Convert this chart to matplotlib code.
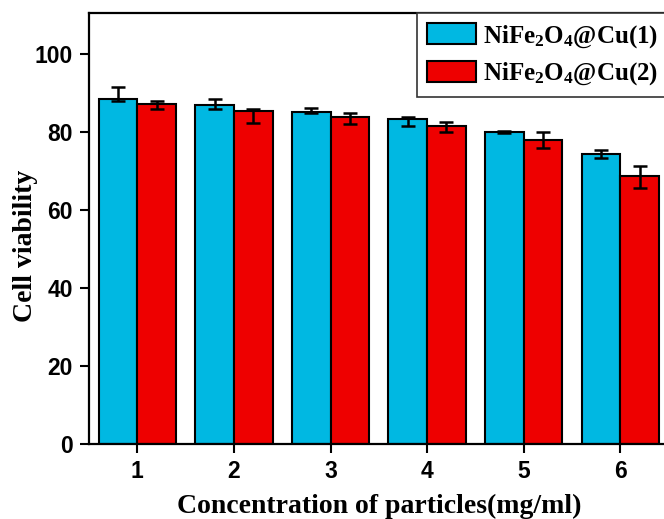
import numpy as np
import matplotlib
matplotlib.use("Agg")
import matplotlib.pyplot as plt

# Data
conc = [1, 2, 3, 4, 5, 6]
cu1_mean = [88.5, 87.0, 85.1, 83.3, 79.9, 74.4]
cu1_err_low = [0.6, 1.2, 0.3, 1.7, 0.3, 1.0]
cu1_err_high = [2.9, 1.5, 1.1, 0.5, 0.3, 1.0]
cu2_mean = [87.2, 85.4, 83.9, 81.5, 77.9, 68.7]
cu2_err_low = [1.3, 3.1, 2.0, 1.5, 2.0, 3.0]
cu2_err_high = [0.8, 0.5, 1.0, 1.0, 2.1, 2.5]
labels = ["NiFe$_2$O$_4$@Cu(1)", "NiFe$_2$O$_4$@Cu(2)"]

plt.rcParams["mathtext.default"] = "regular"

fig = plt.figure(figsize=(6.64, 5.19), dpi=100)
ax = fig.add_axes([0.134, 0.145, 0.873, 0.830])

x = np.array(conc)
w = 0.4
err_kw = dict(elinewidth=1.8, capsize=5, capthick=1.8, ecolor="black")
ax.bar(x - w / 2, cu1_mean, w, color="#00B8E2", edgecolor="black", linewidth=1.5,
       yerr=[cu1_err_low, cu1_err_high], error_kw=err_kw, label=labels[0])
ax.bar(x + w / 2, cu2_mean, w, color="#EE0000", edgecolor="black", linewidth=1.5,
       yerr=[cu2_err_low, cu2_err_high], error_kw=err_kw, label=labels[1])

ax.set_xlim(0.5, 6.5)
ax.set_ylim(0, 110.5)
ax.set_xticks(conc)
ax.set_yticks([0, 20, 40, 60, 80, 100])
ax.tick_params(direction="out", length=6.5, width=1.5, labelsize=16.5, pad=5)
for t in ax.get_xticklabels() + ax.get_yticklabels():
    t.set_family("Liberation Sans")
    t.set_weight("bold")
for s in ax.spines.values():
    s.set_linewidth(1.6)

ax.set_xlabel("Concentration of particles(mg/ml)", family="Liberation Serif",
              weight="bold", fontsize=20, labelpad=8)
ax.set_ylabel("Cell viability", family="Liberation Serif", weight="bold",
              fontsize=20)
ax.yaxis.set_label_coords(-0.088, 0.46)

# legend box runs off the right edge like in the original crop
leg = ax.legend(loc="upper right", bbox_to_anchor=(0.999, 1.0), borderaxespad=0,
                prop=dict(family="Liberation Serif", weight="bold", size=18),
                handlelength=1.95, handleheight=0.92, handletextpad=0.28,
                borderpad=0.4, labelspacing=0.42, fancybox=False,
                edgecolor="#333333", framealpha=1)
leg.get_frame().set_linewidth(1.2)

fig.savefig("out.png", dpi=100)
